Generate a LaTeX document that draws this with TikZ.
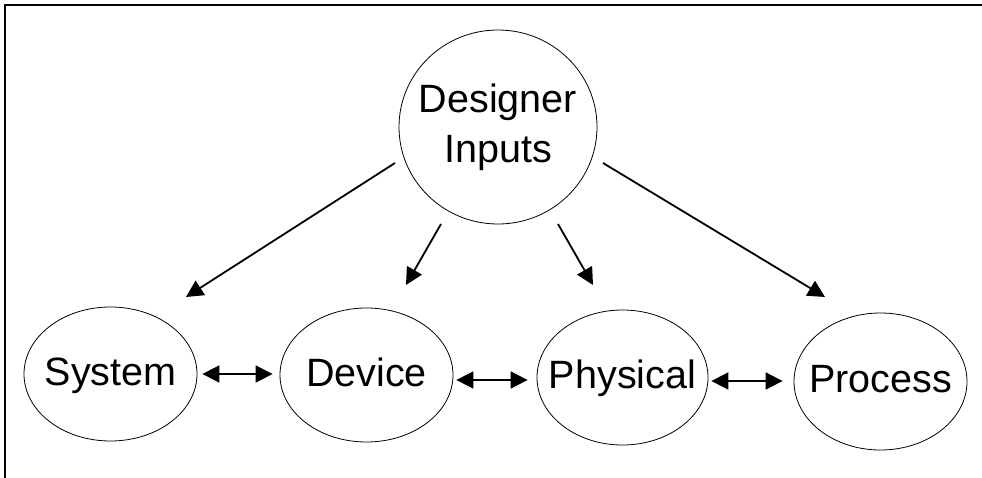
\documentclass[tikz,border=0pt]{standalone}
\usepackage{fontspec}
\setmainfont{Liberation Sans}
\usetikzlibrary{arrows.meta,shapes.geometric}
\tikzset{
  bubble/.style={draw=black, line width=0.8pt, ellipse, inner sep=0pt,
    font=\fontsize{39.5}{50}\selectfont, align=center},
  word/.style={text height=28pt, text depth=6pt},
  flow/.style={line width=1.8pt, -{Triangle[length=17pt,width=17pt]}},
  link/.style={line width=1.8pt, {Triangle[length=17pt,width=17pt]}-{Triangle[length=17pt,width=17pt]}},
  frame/.style={line width=2pt, black}
}
\begin{document}
\begin{tikzpicture}[x=1pt, y=-1pt]
  \useasboundingbox (0,0) rectangle (982,478);
  % partial page frame: top and left edges
  \draw[frame] (5,478) -- (5,5) -- (982,5);

  % nodes (labels in zero-width boxes so the outlines keep their set size)
  \node[bubble, minimum width=198pt, minimum height=194pt] (des) at (498,127)
    {\makebox[0pt]{Designer}\\\makebox[0pt]{Inputs}};
  \node[bubble, word, minimum width=173pt, minimum height=134pt] (sys) at (110.5,374) {\makebox[0pt]{System}};
  \node[bubble, word, minimum width=173pt, minimum height=134pt] (dev) at (366.5,375) {\makebox[0pt]{Device}};
  \node[bubble, word, minimum width=171pt, minimum height=135pt] (phy) at (622.5,377.5) {\makebox[0pt]{Physical}};
  \node[bubble, word, minimum width=173pt, minimum height=137pt] (pro) at (880.5,381.5) {\makebox[0pt]{Process}};

  % end points of the arrows from the designer inputs
  \coordinate (s1) at (395,163);  \coordinate (t1) at (186,297);
  \coordinate (s2) at (441,224);  \coordinate (t2) at (406,285);
  \coordinate (s3) at (558,224);  \coordinate (t3) at (593,285);
  \coordinate (s4) at (603,163);  \coordinate (t4) at (825,297);

  \draw[flow] (s1) -- (t1);
  \draw[flow] (s2) -- (t2);
  \draw[flow] (s3) -- (t3);
  \draw[flow] (s4) -- (t4);

  % two-way links between neighbouring levels
  \draw[link] ([xshift=5pt]sys.east) -- ([xshift=-7pt]sys.east -| dev.west);
  \draw[link] ([xshift=3pt,yshift=-5pt]dev.east) -- ([xshift=-9pt,yshift=-5pt]dev.east -| phy.west);
  \draw[link] ([xshift=3pt,yshift=-3.5pt]phy.east) -- ([xshift=-11pt,yshift=-3.5pt]phy.east -| pro.west);
\end{tikzpicture}
\end{document}
